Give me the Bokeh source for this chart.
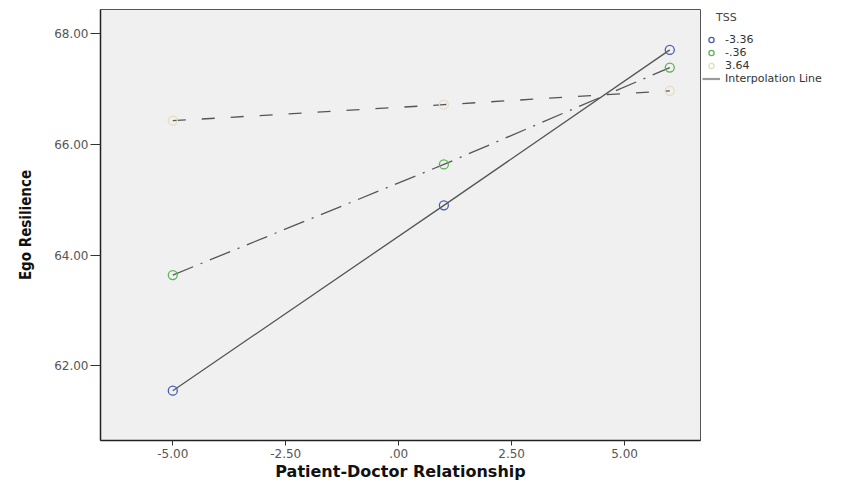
from bokeh.plotting import figure
from bokeh.models import ColumnDataSource, FixedTicker, Legend, LegendItem, Range1d
from bokeh.embed import file_html
from bokeh.resources import INLINE

# Data
pdr = [-5.0, 1.0, 6.0]
tss_labels = ["-3.36", "-.36", "3.64"]
ego_low = [61.55, 64.90, 67.71]
ego_mid = [63.64, 65.64, 67.39]
ego_high = [66.43, 66.72, 66.97]
x_ticks = [-5.0, -2.5, 0.0, 2.5, 5.0]
x_tick_labels = ["-5.00", "-2.50", ".00", "2.50", "5.00"]
y_ticks = [62.0, 64.0, 66.0, 68.0]
y_tick_labels = ["62.00", "64.00", "66.00", "68.00"]

series = [ego_low, ego_mid, ego_high]
marker_colors = ["#4a5cb0", "#5cb35a", "#e6dcc0"]
dashes = ["solid", "22 8 2 8", "13 16"]

p = figure(frame_width=600, frame_height=431, output_backend="svg", toolbar_location=None,
           x_range=Range1d(-6.6, 6.68), y_range=Range1d(60.65, 68.44),
           min_border_left=100, min_border_right=152, min_border_top=9,
           min_border_bottom=44)
p.background_fill_color = "#f0f0f0"
p.border_fill_color = "white"
p.outline_line_color = "#555555"
p.grid.visible = False

circle_renderers = []
for ys, col, dash in zip(series, marker_colors, dashes):
    src = ColumnDataSource(dict(x=pdr, y=ys))
    p.line("x", "y", source=src, line_color="#555555", line_width=1.3, line_dash=dash)
    cr = p.scatter("x", "y", source=src, marker="circle", size=9, fill_color=None,
                   line_color=col, line_width=1.3)
    circle_renderers.append(cr)

# legend-only swatch for the interpolation line (a single missing point, draws nothing)
nan = float("nan")
interp = p.line(x=[nan], y=[nan], line_color="#9a9a9a", line_width=2.2)

items = [LegendItem(label=lab, renderers=[cr]) for lab, cr in zip(tss_labels, circle_renderers)]
items.append(LegendItem(label="Interpolation Line", renderers=[interp]))
leg = Legend(items=items, location="top_left", title="\u00a0\u00a0\u00a0\u00a0TSS",
             title_text_font="DejaVu Sans", title_text_font_size="11px",
             title_text_font_style="normal", title_text_color="#444444",
             title_standoff=9,
             label_text_font="DejaVu Sans", label_text_font_size="11px",
             label_text_color="#333333", glyph_width=18, glyph_height=13,
             label_height=13, label_standoff=5, spacing=0, padding=6, margin=2,
             border_line_color=None, background_fill_alpha=0)
p.add_layout(leg, "right")

p.xaxis.ticker = FixedTicker(ticks=x_ticks)
p.xaxis.major_label_overrides = dict(zip(x_ticks, x_tick_labels))
p.yaxis.ticker = FixedTicker(ticks=y_ticks)
p.yaxis.major_label_overrides = dict(zip(y_ticks, y_tick_labels))

for ax in (p.xaxis, p.yaxis):
    ax.axis_line_color = "#222222"
    ax.axis_line_width = 1.5
    ax.major_tick_line_color = "#333333"
    ax.minor_tick_line_color = None
    ax.major_tick_in = 0
    ax.major_label_text_font = "DejaVu Sans"
    ax.major_label_text_font_size = "12px"
    ax.major_label_text_color = "#555555"

p.xaxis.major_tick_out = 5
p.xaxis.major_label_standoff = 3
p.yaxis.major_tick_out = 10
p.yaxis.major_label_standoff = 2

p.xaxis.axis_label = "Patient-Doctor Relationship"
p.xaxis.axis_label_text_font = "DejaVu Sans"
p.xaxis.axis_label_text_font_style = "bold"
p.xaxis.axis_label_text_font_size = "16px"
p.xaxis.axis_label_text_color = "#111111"
p.xaxis.axis_label_standoff = 1

p.yaxis.axis_label = "Ego Resilience"
p.yaxis.axis_label_text_font = "DejaVu Sans Condensed"
p.yaxis.axis_label_text_font_style = "bold"
p.yaxis.axis_label_text_font_size = "15px"
p.yaxis.axis_label_text_color = "#111111"
p.yaxis.axis_label_standoff = 16

open("out.html", "w").write(file_html(p, INLINE))
